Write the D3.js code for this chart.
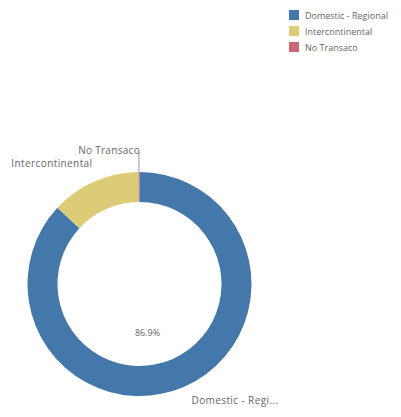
<!DOCTYPE html>
<html>
<head>
<meta charset="utf-8">
<script src="https://cdn.jsdelivr.net/npm/d3@7"></script>
<style>
  body { margin: 0; background: #fff; }
  text { font-family: "Open Sans", sans-serif; fill: #666; }
</style>
</head>
<body>
<div id="chart"></div>
<script>
// data
const categories = ["Domestic - Regional", "Intercontinental", "No Transaco"];
const shares = [86.9, 12.95, 0.15];
const sliceLabels = ["Domestic - Regi...", "Intercontinental", "No Transaco"];
const colors = ["#4477aa", "#ddcc77", "#cc6677"];

const width = 401, height = 417;
const cx = 139.5, cy = 284;
const outerR = 112, innerR = 82;

const svg = d3.select("#chart")
  .append("svg")
    .attr("width", width)
    .attr("height", height);

const pie = d3.pie().sort(null).value(d => d)(shares);
const arc = d3.arc().innerRadius(innerR).outerRadius(outerR);

const g = svg.append("g")
    .attr("transform", `translate(${cx},${cy})`);

g.selectAll("path")
  .data(pie)
  .join("path")
    .attr("d", arc)
    .attr("fill", (d, i) => colors[i]);

// value in the hole
g.append("text")
    .attr("x", 8)
    .attr("y", 52)
    .attr("text-anchor", "middle")
    .style("font-size", "9px")
    .text(shares[0].toFixed(1) + "%");

// Domestic - bottom right
g.append("text")
    .attr("x", 52)
    .attr("y", 120)
    .style("font-size", "10px")
    .style("letter-spacing", "0.4px")
    .text(sliceLabels[0]);

// Intercontinental - upper left
g.append("text")
    .attr("x", -47)
    .attr("y", -117)
    .attr("text-anchor", "end")
    .style("font-size", "10px")
    .style("letter-spacing", "0.4px")
    .text(sliceLabels[1]);

// No Transaco - leader line from the tiny slice
const a = (pie[2].startAngle + pie[2].endAngle) / 2;
const x0 = Math.sin(a) * outerR, y0 = -Math.cos(a) * outerR;
g.append("path")
    .attr("d", `M${x0},${y0}V${-outerR - 20}`)
    .attr("stroke", "#999")
    .attr("stroke-width", 1)
    .attr("fill", "none");
g.append("text")
    .attr("x", x0 + 1)
    .attr("y", -outerR - 18)
    .attr("text-anchor", "end")
    .style("font-size", "10px")
    .style("letter-spacing", "0.3px")
    .text(sliceLabels[2]);

// legend
const legend = svg.append("g")
    .attr("transform", "translate(289,10)");
const item = legend.selectAll("g")
  .data(categories)
  .join("g")
    .attr("transform", (d, i) => `translate(0,${i * 16})`);
item.append("rect")
    .attr("width", 10)
    .attr("height", 10)
    .attr("fill", (d, i) => colors[i]);
item.append("text")
    .attr("x", 16)
    .attr("y", 8.5)
    .style("font-size", "9px")
    .text(d => d);
</script>
</body>
</html>
